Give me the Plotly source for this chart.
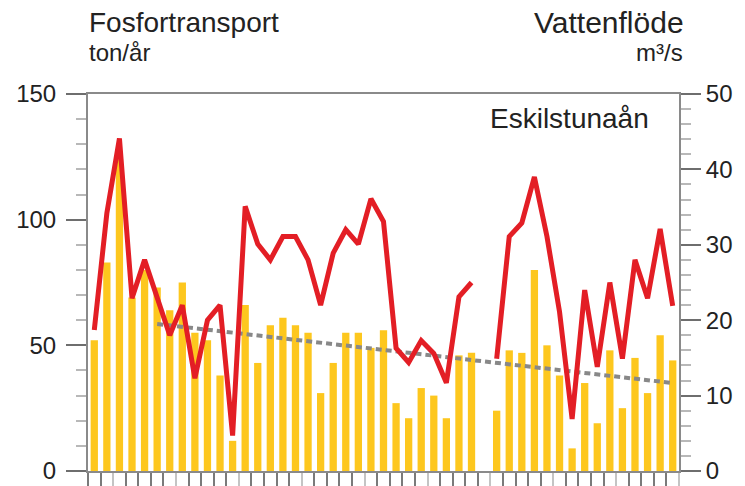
import plotly.graph_objects as go

years = list(range(1968, 2015))
phosphorus = [52, 83, 124, 69, 80, 73, 64, 75, 55, 52, 38, 12, 66, 43, 58, 61,
              58, 55, 31, 43, 55, 55, 49, 56, 27, 21, 33, 30, 21, 46, 47, None,
              24, 48, 47, 80, 50, 38, 9, 35, 19, 48, 25, 45, 31, 54, 44]
flow = [18.7, 34.2, 44.1, 22.9, 28.0, 23.0, 18.0, 22.0, 12.3, 20.0, 22.0, 4.7,
        35.1, 30.1, 28.0, 31.1, 31.1, 28.0, 22.0, 28.9, 32.0, 30.1, 36.1, 33.1,
        16.3, 14.4, 17.3, 15.6, 11.7, 23.1, 25.0, None, 14.9, 31.1, 32.9, 39.0,
        31.1, 21.1, 6.9, 24.0, 13.8, 25.0, 14.9, 28.0, 22.9, 32.1, 21.9]
trend_years = [1973, 2014]
trend_values = [58.5, 35.0]

FONT = "Liberation Sans, Arial, sans-serif"
TXT = "#222222"

fig = go.Figure()
fig.add_trace(go.Bar(x=years, y=phosphorus, marker=dict(color="#FDC71E", line=dict(width=0)),
                     yaxis="y", showlegend=False))
fig.add_trace(go.Scatter(x=trend_years, y=trend_values, mode="lines",
                         line=dict(color="#888888", width=4, dash="6px,4px"),
                         yaxis="y", showlegend=False))
fig.add_trace(go.Scatter(x=years, y=flow, mode="lines", connectgaps=False,
                         line=dict(color="#E31E25", width=5),
                         yaxis="y2", showlegend=False))

axis_line = "#8A8A8A"
fig.update_layout(
    template="none",
    width=745, height=486,
    margin=dict(l=88, r=66, t=94, b=15),
    paper_bgcolor="white", plot_bgcolor="white",
    bargap=0.42,
    font=dict(family=FONT, color=TXT),
    xaxis=dict(range=[1967.5, 2014.5], showgrid=False, zeroline=False,
               showline=True, linecolor=axis_line, linewidth=2, mirror=True,
               ticks="outside", tick0=1969.5, dtick=5, ticklen=15, tickwidth=2,
               tickcolor="#C4C4C4", showticklabels=False, automargin=False,
               minor=dict(ticks="outside", tick0=1967.5, dtick=1, ticklen=15,
                          tickwidth=2, tickcolor="#7A7A7A", showgrid=False)),
    yaxis=dict(range=[0, 150], showgrid=False, zeroline=False,
               showline=True, linecolor=axis_line, linewidth=2,
               ticks="outside", tick0=0, dtick=50, ticklen=20, tickwidth=2,
               tickcolor="#6E6E6E", tickfont=dict(size=24, color=TXT, family=FONT),
               automargin=False, ticklabelstandoff=5,
               minor=dict(ticks="outside", dtick=10, ticklen=10, tickwidth=2,
                          tickcolor="#B8B8B8", showgrid=False)),
    yaxis2=dict(range=[0, 50], overlaying="y", side="right", showgrid=False,
                zeroline=False, showline=True, linecolor=axis_line, linewidth=2,
                ticks="outside", tick0=0, dtick=10, ticklen=20, tickwidth=2,
                tickcolor="#6E6E6E", tickfont=dict(size=24, color=TXT, family=FONT),
                automargin=False, ticklabelstandoff=0,
                minor=dict(ticks="outside", dtick=2, ticklen=10, tickwidth=2,
                           tickcolor="#B8B8B8", showgrid=False)),
)

H = 377.0
def py(pix):
    return 1 + (94 - pix) / H
def px(pix):
    return (pix - 88) / 591.0

annos = [
    dict(text="Fosfortransport", x=px(87), y=py(22), xanchor="left", size=28),
    dict(text="ton/år", x=px(87), y=py(53), xanchor="left", size=24),
    dict(text="Vattenflöde", x=px(686), y=py(22), xanchor="right", size=30),
    dict(text="m³/s", x=px(685), y=py(53), xanchor="right", size=24),
    dict(text="Eskilstunaån", x=px(651), y=py(118), xanchor="right", size=28),
]
for a in annos:
    fig.add_annotation(text=a["text"], x=a["x"], y=a["y"], xref="paper", yref="paper",
                       xanchor=a["xanchor"], yanchor="middle", showarrow=False,
                       font=dict(size=a["size"], color=TXT, family=FONT))

fig.write_html("out.html", config={"displayModeBar": False},
               post_script="document.body.style.margin='0';document.body.style.padding='0';")
